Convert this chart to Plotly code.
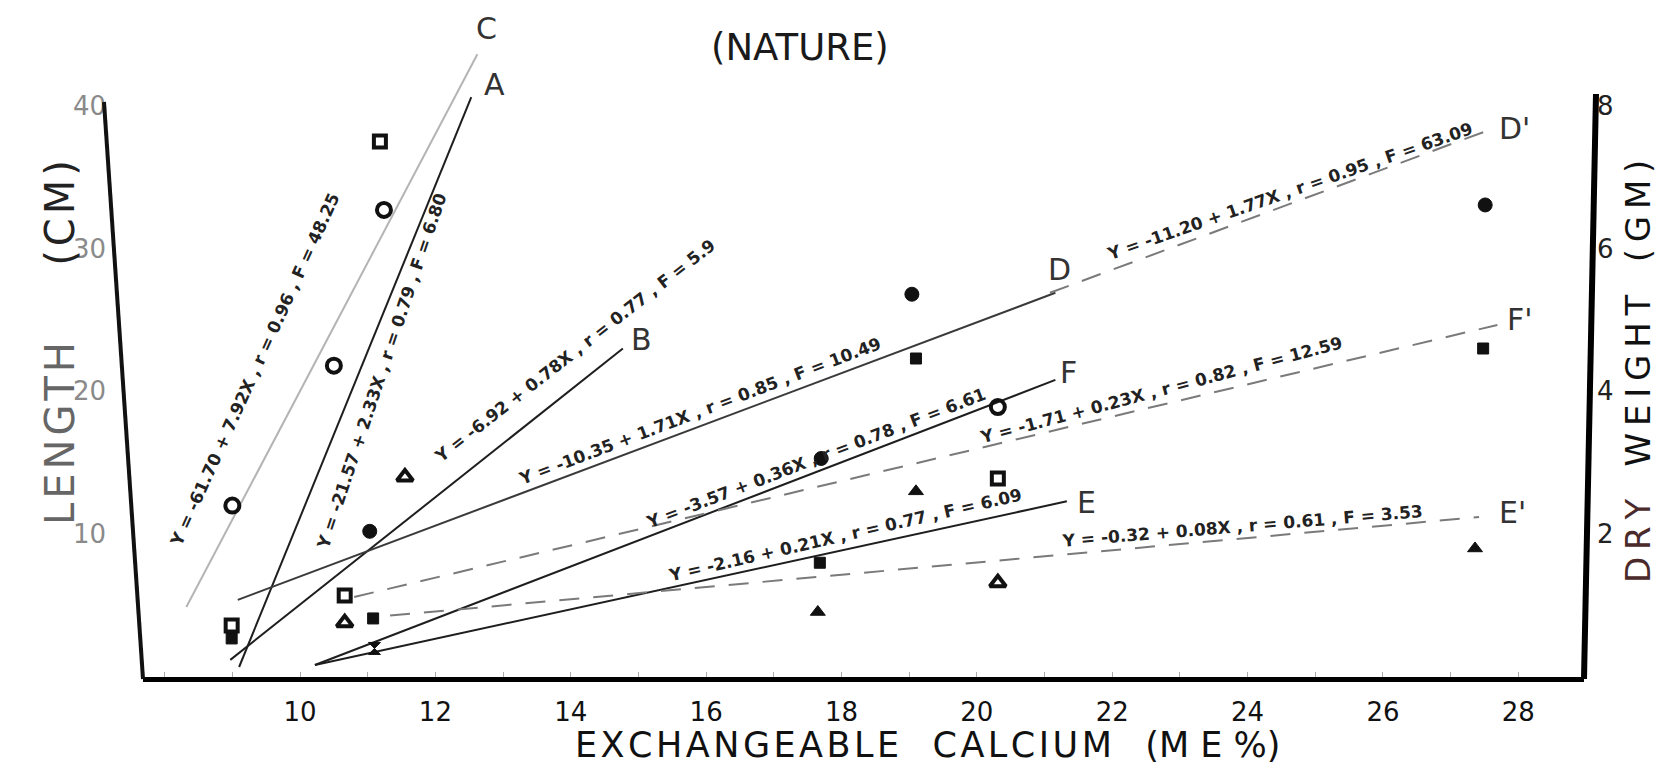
import plotly.graph_objects as go

# ---------------- data ----------------
x_ticks = [10, 12, 14, 16, 18, 20, 22, 24, 26, 28]
y_left_ticks = [10, 20, 30, 40]
y_right_ticks = [2, 4, 6, 8]

# regression lines (end points, x = exchangeable Ca, y on the length scale)
line_C_x = [8.32, 12.62]; line_C_y = [4.9, 43.6]
line_A_x = [9.10, 12.53]; line_A_y = [0.7, 40.6]
line_B_x = [8.97, 14.77]; line_B_y = [1.2, 23.0]
line_D_x = [9.08, 21.16]; line_D_y = [5.4, 26.9]
line_Dp_x = [21.08, 27.57]; line_Dp_y = [26.9, 38.3]
line_F_x = [10.22, 21.16]; line_F_y = [0.84, 20.8]
line_E_x = [10.22, 21.33]; line_E_y = [0.84, 12.3]
line_Fp_x = [10.80, 27.69]; line_Fp_y = [5.6, 24.65]
line_Ep_x = [11.33, 27.42]; line_Ep_y = [4.3, 11.2]

# observed points by symbol
open_circle_x = [9.00, 10.50, 11.24, 20.31]; open_circle_y = [12.0, 21.8, 32.7, 18.9]
open_square_x = [11.18, 8.99, 10.66, 20.31]; open_square_y = [37.5, 3.6, 5.7, 13.9]
filled_square_x = [8.99, 11.08, 17.68, 19.10, 27.48]; filled_square_y = [2.7, 4.1, 8.0, 22.3, 23.0]
open_triangle_x = [11.55, 10.66, 20.31]; open_triangle_y = [14.0, 3.8, 6.6]
filled_triangle_x = [19.10, 17.65, 27.36]; filled_triangle_y = [13.0, 4.55, 9.0]
filled_circle_x = [11.03, 17.70, 19.04, 27.51]; filled_circle_y = [10.2, 15.3, 26.8, 33.05]
cross_x = [11.10]; cross_y = [2.0]

equations = {
    "C": "Y = -61.70 + 7.92X , r = 0.96 , F = 48.25",
    "A": "Y = -21.57 + 2.33X , r = 0.79 , F = 6.80",
    "B": "Y = -6.92 + 0.78X , r = 0.77 , F = 5.9",
    "D": "Y = -10.35 + 1.71X , r = 0.85 , F = 10.49",
    "D'": "Y = -11.20 + 1.77X , r = 0.95 , F = 63.09",
    "F": "Y = -3.57 + 0.36X , r = 0.78 , F = 6.61",
    "F'": "Y = -1.71 + 0.23X , r = 0.82 , F = 12.59",
    "E": "Y = -2.16 + 0.21X , r = 0.77 , F = 6.09",
    "E'": "Y = -0.32 + 0.08X , r = 0.61 , F = 3.53",
}

X_RANGE = [7.68, 28.97]
Y_RANGE = [0, 46.0]

fig = go.Figure()

solid_dark = dict(color="#1e1e1e", width=2)
solid_light = dict(color="#b4b4b4", width=2)
dashed = dict(color="#7a7a7a", width=2, dash="20px,14px")

for lx, ly, st in [
    (line_C_x, line_C_y, solid_light),
    (line_A_x, line_A_y, solid_dark),
    (line_B_x, line_B_y, solid_dark),
    (line_D_x, line_D_y, dict(color="#3a3a3a", width=2)),
    (line_Dp_x, line_Dp_y, dashed),
    (line_F_x, line_F_y, solid_dark),
    (line_E_x, line_E_y, solid_dark),
    (line_Fp_x, line_Fp_y, dashed),
    (line_Ep_x, line_Ep_y, dashed),
]:
    fig.add_trace(go.Scatter(x=lx, y=ly, mode="lines", line=st,
                             showlegend=False, hoverinfo="skip"))

def pts(x, y, symbol, size, lw=3):
    fig.add_trace(go.Scatter(x=x, y=y, mode="markers", showlegend=False,
                             marker=dict(symbol=symbol, size=size, color="#111",
                                         line=dict(color="#111", width=lw))))

pts(open_circle_x, open_circle_y, "circle-open", 14, 4)
pts(open_square_x, open_square_y, "square-open", 12, 4)
pts(filled_square_x, filled_square_y, "square", 11, 1)
pts(open_triangle_x, open_triangle_y, "triangle-up-open", 14, 4)
pts(filled_triangle_x, filled_triangle_y, "triangle-up", 13, 1)
pts(filled_circle_x, filled_circle_y, "circle", 14, 1)
pts(cross_x, cross_y, "hourglass", 12, 1)

# secondary (dry weight) axis
fig.add_trace(go.Scatter(x=[None], y=[None], yaxis="y2", showlegend=False))

# ---------- annotations ----------
ann = []
letters = [("C", 12.75, 45.4), ("A", 12.88, 41.5), ("B", 15.05, 23.6),
           ("D", 21.22, 28.5), ("D'", 27.94, 38.4), ("F", 21.36, 21.3),
           ("F'", 28.03, 25.0), ("E", 21.62, 12.25), ("E'", 27.91, 11.5)]
for t, x, y in letters:
    ann.append(dict(x=x, y=y, xref="x", yref="y", text=t, showarrow=False,
                    xanchor="center", yanchor="middle",
                    font=dict(family="DejaVu Sans", size=30, color="#333")))

eq_pos = [("C", 9.33, 21.5, -65.6), ("A", 11.21, 21.4, -71.5),
          ("B", 14.06, 22.8, -38), ("D", 15.91, 18.6, -20.8),
          ("D'", 24.63, 34.0, -19.2), ("F", 17.63, 15.3, -21),
          ("F'", 22.72, 20.1, -14.8), ("E", 18.05, 9.94, -13),
          ("E'", 23.92, 10.6, -4.7)]
for k, x, y, a in eq_pos:
    ann.append(dict(x=x, y=y, xref="x", yref="y", text="<b>%s</b>" % equations[k],
                    showarrow=False, textangle=a, xanchor="center", yanchor="middle",
                    font=dict(family="DejaVu Sans", size=17, color="#222")))

# titles (page pixel -> paper)
def px(xp):
    return (xp - 143) / 1441.0
def py(yp):
    return (677 - yp) / 657.0

def spaced(s, sep="\u200a"):
    return sep.join(s)

ann.append(dict(x=px(800), y=py(47), xref="paper", yref="paper", text="(NATURE)",
                xanchor="center", yanchor="middle",
                showarrow=False, font=dict(family="DejaVu Sans", size=37, color="#1a1a1a")))
ann.append(dict(x=px(927), y=py(745), xref="paper", yref="paper",
                text=spaced("EXCHANGEABLE") + "   " + spaced("CALCIUM") + "   (M E %)",
                showarrow=False, xanchor="center", yanchor="middle",
                font=dict(family="DejaVu Sans", size=35, color="#111")))
ann.append(dict(x=px(60), y=py(343), xref="paper", yref="paper",
                text="<span style='color:#666'>%s</span>      %s" % (spaced("LENGTH"), spaced("(CM)")),
                textangle=-90, xanchor="center", yanchor="middle",
                showarrow=False, font=dict(family="DejaVu Sans", size=40, color="#222")))
ann.append(dict(x=px(1638), y=py(372), xref="paper", yref="paper",
                text="<span style='color:#4a2a2a'>%s</span>   %s   %s" % (
                    spaced("DRY", "\u2009"), spaced("WEIGHT", "\u2009"), spaced("(GM)", "\u2009")),
                textangle=-90, xanchor="center", yanchor="middle",
                showarrow=False, font=dict(family="DejaVu Sans", size=34, color="#111")))

shapes = [
    dict(type="line", xref="paper", yref="paper", x0=px(104), y0=py(102),
         x1=px(143), y1=py(679), line=dict(color="#111", width=4)),
    dict(type="line", xref="paper", yref="paper", x0=px(1596), y0=py(94),
         x1=px(1584), y1=py(679), line=dict(color="#000", width=6)),
]

fig.update_layout(
    width=1654, height=759,
    margin=dict(l=135, r=78, t=12, b=90),
    paper_bgcolor="white", plot_bgcolor="white",
    showlegend=False,
    annotations=ann, shapes=shapes,
    xaxis=dict(range=X_RANGE, tickvals=x_ticks, showgrid=False, zeroline=False,
               showline=True, linecolor="#000", linewidth=5,
               ticks="inside", ticklen=5, tickcolor="#aaa",
               minor=dict(dtick=1, ticks="inside", ticklen=5, tickcolor="#aaa"),
               ticklabelstandoff=8,
               tickfont=dict(family="DejaVu Sans", size=26, color="#111")),
    yaxis=dict(range=Y_RANGE, tickvals=y_left_ticks, showgrid=False, zeroline=False,
               showline=False, ticks="", ticklabelstandoff=36,
               tickfont=dict(family="DejaVu Sans", size=26, color="#8a8a8a")),
    yaxis2=dict(range=[Y_RANGE[0] / 5, Y_RANGE[1] / 5], tickvals=y_right_ticks,
                overlaying="y", side="right", showgrid=False, zeroline=False,
                showline=False, ticks="", ticklabelstandoff=12,
                tickfont=dict(family="DejaVu Sans", size=26, color="#222")),
)

fig.write_html("out.html")
